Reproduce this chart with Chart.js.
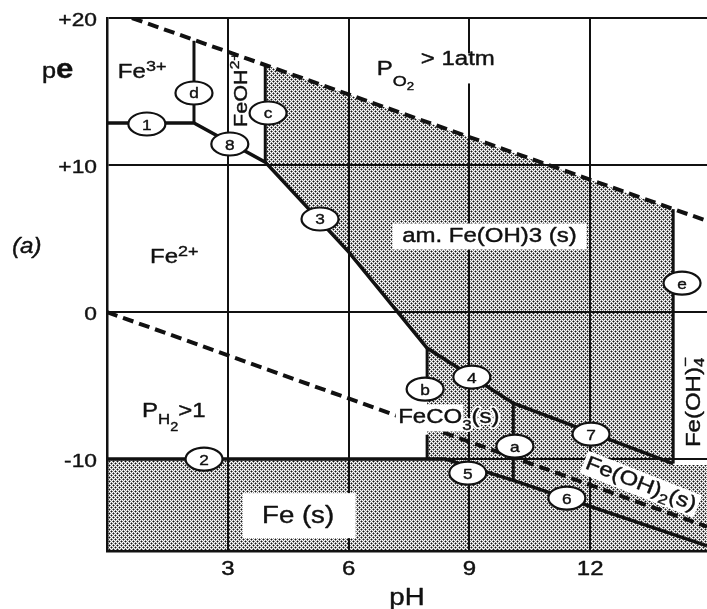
<!DOCTYPE html>
<html>
<head>
<meta charset="utf-8">
<script src="https://cdn.jsdelivr.net/npm/chart.js@4.4.1/dist/chart.umd.min.js"></script>
<style>
  html, body { margin: 0; padding: 0; background: #fff; }
  canvas { display: block; }
</style>
</head>
<body>
<canvas id="diagram" width="707" height="609"></canvas>
<script>
// ---- axes ----
const phTicks = [3, 6, 9, 12];
const phTickLabels = ['3', '6', '9', '12'];
const peTicks = [20, 10, 0, -10];
const peTickLabels = ['+20', '+10', '0', '-10'];
const phRange = [0, 14.9];
const peRange = [-16.25, 20];

// ---- water stability limits (dashed) ----
const o2Limit = [[0.62, 20.0], [14.9, 6.2]];
const h2Limit = [[0, 0], [14.9, -14.6]];

// ---- phase boundaries [pH, pe] ----
const upperBoundary = [[0, 12.86], [2.16, 12.86], [3.93, 10.2], [6.0, 4.1], [7.95, -2.45], [10.09, -6.2], [14.06, -10.3]]; // lines 1, 8, 3, 4, 7
const lowerBoundary = [[0, -10], [8.4, -10], [10.09, -11.45], [14.9, -15.9]];                                           // lines 2, 5, 6
const lineD = [[2.16, 12.86], [2.16, 18.45]];
const lineC = [[3.93, 10.2], [3.93, 16.8]];
const lineE = [[14.06, -10.3], [14.06, 7.0]];
const lineB = [[7.95, -2.45], [7.95, -6.0], [7.95, null], [7.95, -8.35], [7.95, -10]];
const lineA = [[10.09, -6.2], [10.09, -11.45]];

// ---- solid-phase fields (stippled) ----
const hydroxideTop = [[3.93, 16.8], [14.06, 7.0]];
const hydroxideBottom = [[3.93, 10.2], [6.0, 4.1], [7.95, -2.45], [10.09, -6.2], [14.06, -10.3]];
const reducedSolidsTop = [[0, -10], [7.95, -10], [7.95, -2.45], [10.09, -6.2], [14.06, -10.3], [14.06, -10.4], [14.9, -10.4]];

// ---- circled line tags ----
const tagNames = ['1', 'd', 'c', '8', '3', '2', 'e', 'b', '4', 'a', '5', '7', '6'];
const tagPH = [0.99, 2.16, 4.00, 3.05, 5.29, 2.41, 14.28, 7.90, 9.06, 10.13, 8.96, 12.02, 11.42];
const tagPE = [12.79, 14.90, 13.54, 11.43, 6.33, -10.0, 1.97, -5.24, -4.42, -9.12, -10.95, -8.30, -12.65];

const INK = '#111';
const FONT = '"Liberation Sans", Arial, Helvetica, sans-serif';

// ---- field labels (anchored in pH / pe units) ----
const fieldLabels = [
  { at: [0.27, 15.92], runs: [{ t: 'Fe', s: 20 }, { t: '3+', s: 15, dy: -7 }] },
  { at: [3.48, 12.59], angle: -90, box: 'under', pad: [3, 2, 3, 3],
    runs: [{ t: 'FeOH', s: 18 }, { t: '2+', s: 13, dy: -8 }] },
  { at: [6.70, 16.12], box: 'under', pad: [6, 6, 8, 4],
    runs: [{ t: 'P', s: 20 }, { t: 'O', s: 15, dy: 11 }, { t: '2', s: 11, dy: 15 }, { t: ' > 1atm', s: 20, dy: -10 }] },
  { at: [7.33, 4.76], box: 'under', pad: [8, 3, 8, 3], halo: true,
    runs: [{ t: 'am. Fe(OH)3 (s)', s: 20 }] },
  { at: [1.07, 3.34], runs: [{ t: 'Fe', s: 20 }, { t: '2+', s: 15, dy: -7 }] },
  { at: [0.87, -7.14], runs: [{ t: 'P', s: 20 }, { t: 'H', s: 14, dy: 7 }, { t: '2', s: 12, dy: 14 }, { t: '>1', s: 20 }] },
  { at: [3.85, -14.35], box: 'under', pad: [16, 12, 18, 10],
    runs: [{ t: 'Fe (s)', s: 23 }] },
  { at: [7.23, -7.55], box: 'over', pad: [2, 3, 1, 4], halo: true,
    runs: [{ t: 'FeCO', s: 20 }, { t: '3', s: 14, dy: 7, nobox: true }, { t: '(s)', s: 20, nobox: true }] },
  { at: [11.85, -10.6], angle: 21.5, box: 'under', pad: [2, 2, 2, 2], halo: true,
    runs: [{ t: 'Fe(OH)', s: 20 }, { t: '2', s: 14, dy: 5 }, { t: '(s)', s: 20 }] },
  { at: [14.73, -9.18], angle: -90,
    runs: [{ t: 'Fe(OH)', s: 20 }, { t: '\u2212', s: 14, dy: -10, hold: true }, { t: '4', s: 14, dy: 4 }] }
];

// ---- stipple pattern for the solid-phase fields ----
function makeStipple() {
  const tile = document.createElement('canvas');
  tile.width = 4; tile.height = 4;
  const g = tile.getContext('2d');
  const img = g.createImageData(4, 4);
  const put = (x, y, a) => {
    x = (x + 4) % 4; y = (y + 4) % 4;
    const k = (y * 4 + x) * 4;
    img.data[k] = 15; img.data[k + 1] = 15; img.data[k + 2] = 15;
    img.data[k + 3] = Math.max(img.data[k + 3], a);
  };
  [[1, 1], [3, 3]].forEach(([cx, cy]) => {
    put(cx, cy, 255);
    put(cx + 1, cy, 120); put(cx - 1, cy, 120); put(cx, cy + 1, 120); put(cx, cy - 1, 120);
  });
  g.putImageData(img, 0, 0);
  return g.createPattern(tile, 'repeat');
}
const stipple = makeStipple();

const pts = arr => arr.map(([x, y]) => ({ x, y }));
const boundary = (data, w, dash) => ({
  data: pts(data), borderColor: INK, borderWidth: w, borderDash: dash || [],
  pointRadius: 0, fill: false, tension: 0, spanGaps: false,
  borderCapStyle: 'butt', borderJoinStyle: 'miter'
});

// ---- rich text with super/subscripts, slightly widened ----
function fontOf(r) {
  return (r.i ? 'italic ' : '') + (r.b ? 'bold ' : '') + r.s + 'px ' + FONT;
}
function layout(ctx, runs) {
  let w = 0, boxW = null;
  const xs = [];
  runs.forEach(r => {
    ctx.font = fontOf(r);
    if (r.nobox && boxW === null) boxW = w;
    xs.push(w);
    if (!r.hold) w += ctx.measureText(r.t).width;
  });
  return { w, xs, boxW: boxW === null ? w : boxW };
}
function drawRich(ctx, x, y, runs, o) {
  o = o || {};
  const sx = o.sx || 1.2;
  ctx.save();
  ctx.translate(x, y);
  ctx.rotate((o.angle || 0) * Math.PI / 180);
  ctx.scale(sx, 1);
  ctx.textBaseline = 'alphabetic';
  ctx.textAlign = 'left';
  const L = layout(ctx, runs);
  const off = o.align === 'center' ? -L.w / 2 : o.align === 'right' ? -L.w : 0;
  const maxS = Math.max(...runs.map(r => r.s));
  if (o.mode === 'box') {
    const p = o.pad || [3, 3, 3, 3]; // left, top, right, bottom
    ctx.fillStyle = '#fff';
    ctx.fillRect(off - p[0], -maxS * 0.78 - p[1], L.boxW + p[0] + p[2], maxS * 1.0 + p[1] + p[3]);
  } else {
    runs.forEach((r, i) => {
      ctx.font = fontOf(r);
      const tx = off + L.xs[i], ty = r.dy || 0;
      if (o.halo) {
        ctx.strokeStyle = '#fff';
        ctx.lineWidth = 4;
        ctx.lineJoin = 'round';
        ctx.strokeText(r.t, tx, ty);
      }
      ctx.fillStyle = INK;
      ctx.fillText(r.t, tx, ty);
      // slightly heavier strokes, like a printed figure
      ctx.strokeStyle = INK;
      ctx.lineWidth = 0.4;
      ctx.lineJoin = 'round';
      ctx.strokeText(r.t, tx, ty);
    });
  }
  ctx.restore();
}

const labelPlugin = {
  id: 'fieldLabels',
  beforeDatasetsDraw(chart) {
    const { ctx, scales: { x, y } } = chart;
    fieldLabels.filter(l => l.box === 'under').forEach(l => {
      drawRich(ctx, x.getPixelForValue(l.at[0]), y.getPixelForValue(l.at[1]), l.runs,
        { angle: l.angle, mode: 'box', pad: l.pad });
    });
  },
  afterDatasetsDraw(chart) {
    const { ctx, scales: { x, y } } = chart;
    fieldLabels.filter(l => l.box === 'over').forEach(l => {
      drawRich(ctx, x.getPixelForValue(l.at[0]), y.getPixelForValue(l.at[1]), l.runs,
        { angle: l.angle, mode: 'box', pad: l.pad });
    });
    fieldLabels.forEach(l => {
      drawRich(ctx, x.getPixelForValue(l.at[0]), y.getPixelForValue(l.at[1]), l.runs,
        { angle: l.angle, halo: l.halo });
    });
    // circled tags
    tagNames.forEach((name, i) => {
      const px = x.getPixelForValue(tagPH[i]), py = y.getPixelForValue(tagPE[i]);
      ctx.save();
      ctx.beginPath();
      ctx.ellipse(px, py, 18.5, 11.5, 0, 0, Math.PI * 2);
      ctx.fillStyle = '#fff';
      ctx.fill();
      ctx.lineWidth = 2.2;
      ctx.strokeStyle = INK;
      ctx.stroke();
      ctx.restore();
      drawRich(ctx, px, py + 5.5, [{ t: name, s: 15 }], { align: 'center', sx: 1.15 });
    });
  },
  afterDraw(chart) {
    const { ctx, scales: { x, y } } = chart;
    phTicks.forEach((v, i) => {
      drawRich(ctx, x.getPixelForValue(v), 575, [{ t: phTickLabels[i], s: 20 }], { align: 'center' });
    });
    peTicks.forEach((v, i) => {
      drawRich(ctx, 97, y.getPixelForValue(v) + 7.5, [{ t: peTickLabels[i], s: 19 }], { align: 'right' });
    });
    drawRich(ctx, (x.left + x.right) / 2, 605, [{ t: 'pH', s: 23 }], { align: 'center' });
    drawRich(ctx, 42, 78, [{ t: 'p', s: 22 }, { t: 'e', s: 27, b: true }], { sx: 1.15 });
    drawRich(ctx, 12, 253, [{ t: '(a)', s: 22, i: true }], { sx: 1.1 });
  }
};

new Chart(document.getElementById('diagram'), {
  type: 'line',
  data: {
    datasets: [
      { data: pts(hydroxideTop), fill: { target: 1 }, backgroundColor: stipple, borderWidth: 0, pointRadius: 0 },
      { data: pts(hydroxideBottom), fill: false, borderWidth: 0, pointRadius: 0 },
      { data: pts(reducedSolidsTop), fill: 'start', backgroundColor: stipple, borderWidth: 0, pointRadius: 0 },
      boundary(upperBoundary, 3.5),
      boundary(lowerBoundary, 3.5),
      boundary(lineD, 3),
      boundary(lineC, 3),
      boundary(lineE, 3),
      boundary(lineB, 3),
      boundary(lineA, 3),
      boundary(o2Limit, 4, [11, 6]),
      boundary(h2Limit, 4, [11, 6])
    ]
  },
  options: {
    responsive: false,
    animation: false,
    devicePixelRatio: 1,
    layout: { padding: { top: 18, left: 0, right: 0, bottom: 0 } },
    plugins: {
      legend: { display: false },
      tooltip: { enabled: false },
      filler: { drawTime: 'beforeDatasetsDraw' }
    },
    scales: {
      x: {
        type: 'linear', min: phRange[0], max: phRange[1],
        afterBuildTicks: s => { s.ticks = phTicks.map(v => ({ value: v })); },
        afterFit: s => { s.height = 58; },
        grid: { color: INK, lineWidth: 2, drawTicks: false },
        border: { color: INK, width: 2.5 },
        ticks: { display: false }
      },
      y: {
        type: 'linear', min: peRange[0], max: peRange[1],
        afterBuildTicks: s => { s.ticks = peTicks.map(v => ({ value: v })); },
        afterFit: s => { s.width = 107; },
        grid: { color: INK, lineWidth: 2, drawTicks: false },
        border: { color: INK, width: 2.5 },
        ticks: { display: false }
      }
    }
  },
  plugins: [labelPlugin]
});
</script>
</body>
</html>
